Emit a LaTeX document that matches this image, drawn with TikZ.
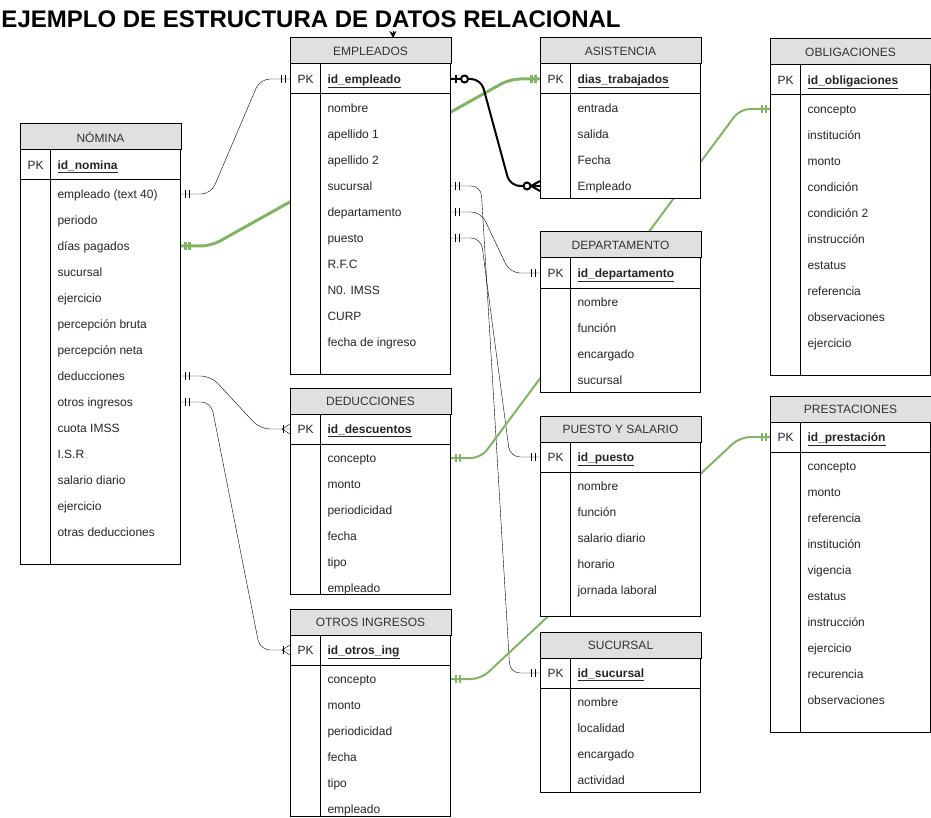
\documentclass[tikz,border=0pt]{standalone}
\usepackage{fontspec}
\setmainfont{Liberation Sans}
\usetikzlibrary{calc,arrows.meta,decorations.markings}
\pgfdeclarelayer{fondo}
\pgfsetlayers{fondo,main}
\definecolor{encabezado}{RGB}{224,224,224}
\definecolor{verde}{RGB}{130,179,102}

% tabla: nombre, x, y, alto, titulo, clave, campos
\newcommand{\tabla}[7]{
    \node[caja, minimum height=#4pt, anchor=north west] (#1) at (#2,#3) {};
    \draw[fill=encabezado] (#1.north west) rectangle ($(#1.north east)+(0,26)$);
    \node[cabeza] (#1-t) at ($(#1.north)+(0,13)$) {#5};
    \draw ($(#1.north west)+(0,56)$) -- ($(#1.north east)+(0,56)$);
    \draw ($(#1.north west)+(30,26)$) -- ($(#1.south west)+(30,0)$);
    \node[campo] (#1-pkl) at ($(#1.north west)+(7,41)$) {PK};
    \node[campo, font=\fontsize{12}{14}\selectfont\bfseries] (#1-pk) at ($(#1.north west)+(37,41)$) {\underline{#6}};
    \foreach \f [count=\i] in {#7}
        \node[campo] (#1-\i) at ($(#1.north west)+(37,{44+26*\i})$) {\f};
}

\begin{document}
\begin{tikzpicture}[x=1pt, y=-1pt, line width=1pt,
    caja/.style={draw, fill=white, minimum width=160pt, inner sep=0pt},
    cabeza/.style={font=\fontsize{12}{14}\selectfont, text=black!80},
    campo/.style={anchor=west, inner sep=0pt, text height=11.5pt, text depth=2.5pt,
        font=\fontsize{12}{14}\selectfont, text=black!85},
    rel/.style={rounded corners=10pt},
    uno ini/.style={postaction={decorate, decoration={markings,
        mark=at position 4.5pt with {\draw (0,-4pt) -- (0,4pt);},
        mark=at position 8.5pt with {\draw (0,-4pt) -- (0,4pt);}}}},
    uno fin/.style={postaction={decorate, decoration={markings,
        mark=at position -4.5pt with {\draw (0,-4pt) -- (0,4pt);},
        mark=at position -8.5pt with {\draw (0,-4pt) -- (0,4pt);}}}},
    muchos fin/.style={postaction={decorate, decoration={markings,
        mark=at position -7pt with {\draw (0,-4pt) -- (0,4pt);},
        mark=at position -8pt with {\draw[sharp corners] (8pt,5pt) -- (0,0) -- (8pt,-5pt);}}}},
    cero ini/.style={postaction={decorate, decoration={markings,
        mark=at position 5pt with {\draw (0,-4pt) -- (0,4pt);},
        mark=at position 13.5pt with {\draw[fill=white] (0,0) circle[radius=3.5pt];}}}},
    cero fin/.style={postaction={decorate, decoration={markings,
        mark=at position -9pt with {\draw[sharp corners] (9pt,5pt) -- (0,0) -- (9pt,-5pt);},
        mark=at position -13pt with {\draw[fill=white] (0,0) circle[radius=3.5pt];}}}}]
    \useasboundingbox (0,0) rectangle (931,818);

    \node[anchor=base west, inner sep=0pt, font=\fontsize{24}{28}\selectfont\bfseries] (titulo) at (1,28) {EJEMPLO DE ESTRUCTURA DE DATOS RELACIONAL};

    \tabla{nom}{20}{124}{440}{NÓMINA}{id\_nomina}{empleado (text 40),periodo,días pagados,sucursal,ejercicio,percepción bruta,percepción neta,deducciones,otros ingresos,cuota IMSS,I.S.R,salario diario,ejercicio,otras deducciones}
    \tabla{emp}{290}{38}{336}{EMPLEADOS}{id\_empleado}{nombre,apellido 1,apellido 2,sucursal,departamento,puesto,R.F.C,N0. IMSS,CURP,fecha de ingreso}
    \tabla{asi}{540}{38}{160}{ASISTENCIA}{dias\_trabajados}{entrada,salida,Fecha,Empleado}
    \tabla{obl}{770}{39}{336}{OBLIGACIONES}{id\_obligaciones}{concepto,institución,monto,condición,condición 2,instrucción,estatus,referencia,observaciones,ejercicio}
    \tabla{dep}{540}{232}{160}{DEPARTAMENTO}{id\_departamento}{nombre,función,encargado,sucursal}
    \tabla{ded}{290}{388}{206}{DEDUCCIONES}{id\_descuentos}{concepto,monto,periodicidad,fecha,tipo,empleado}
    \tabla{pue}{540}{416}{200}{PUESTO Y SALARIO}{id\_puesto}{nombre,función,salario diario,horario,jornada laboral}
    \tabla{pre}{770}{396}{336}{PRESTACIONES}{id\_prestación}{concepto,monto,referencia,institución,vigencia,estatus,instrucción,ejercicio,recurencia,observaciones}
    \tabla{otr}{290}{609}{207}{OTROS INGRESOS}{id\_otros\_ing}{concepto,monto,periodicidad,fecha,tipo,empleado}
    \tabla{suc}{540}{632}{160}{SUCURSAL}{id\_sucursal}{nombre,localidad,encargado,actividad}

    \coordinate (flecha) at (393,31);
    \draw[-{Stealth[length=7pt,width=7pt]}] (flecha) -- (emp.north -| flecha);

    \begin{pgfonlayer}{fondo}
        % nomina -> empleados
        \draw[rel, uno ini, uno fin] (nom.east |- nom-1) -- ++(30,0) -- ($(emp.west |- emp-pk)+(-30,0)$) -- (emp.west |- emp-pk);
        \draw[rel, color=verde, line width=3pt, uno ini, uno fin] (nom.east |- nom-3) -- ++(30,0) -- ($(asi.west |- asi-pk)+(-30,0)$) -- (asi.west |- asi-pk);
        \draw[rel, uno ini, muchos fin] (nom.east |- nom-8) -- ++(30,0) -- ($(ded.west |- ded-pk)+(-30,0)$) -- (ded.west |- ded-pk);
        \draw[rel, uno ini, muchos fin] (nom.east |- nom-9) -- ++(30,0) -- ($(otr.west |- otr-pk)+(-30,0)$) -- (otr.west |- otr-pk);
        % empleados -> resto
        \draw[rel, line width=2pt, cero ini, cero fin] (emp.east |- emp-pk) -- ++(30,0) -- ($(asi.west |- asi-4)+(-30,0)$) -- (asi.west |- asi-4);
        \draw[rel, uno ini, uno fin] (emp.east |- emp-4) -- ++(30,0) -- ($(suc.west |- suc-pk)+(-30,0)$) -- (suc.west |- suc-pk);
        \draw[rel, uno ini, uno fin] (emp.east |- emp-5) -- ++(30,0) -- ($(dep.west |- dep-pk)+(-30,0)$) -- (dep.west |- dep-pk);
        \draw[rel, uno ini, uno fin] (emp.east |- emp-6) -- ++(30,0) -- ($(pue.west |- pue-pk)+(-30,0)$) -- (pue.west |- pue-pk);
        % verdes
        \draw[rel, color=verde, line width=2pt, uno ini, uno fin] (ded.east |- ded-1) -- ++(30,0) -- ($(obl.west |- obl-1)+(-30,0)$) -- (obl.west |- obl-1);
        \draw[rel, color=verde, line width=2pt, uno ini, uno fin] (otr.east |- otr-1) -- ++(30,0) -- ($(pre.west |- pre-pk)+(-30,0)$) -- (pre.west |- pre-pk);
    \end{pgfonlayer}
\end{tikzpicture}
\end{document}
